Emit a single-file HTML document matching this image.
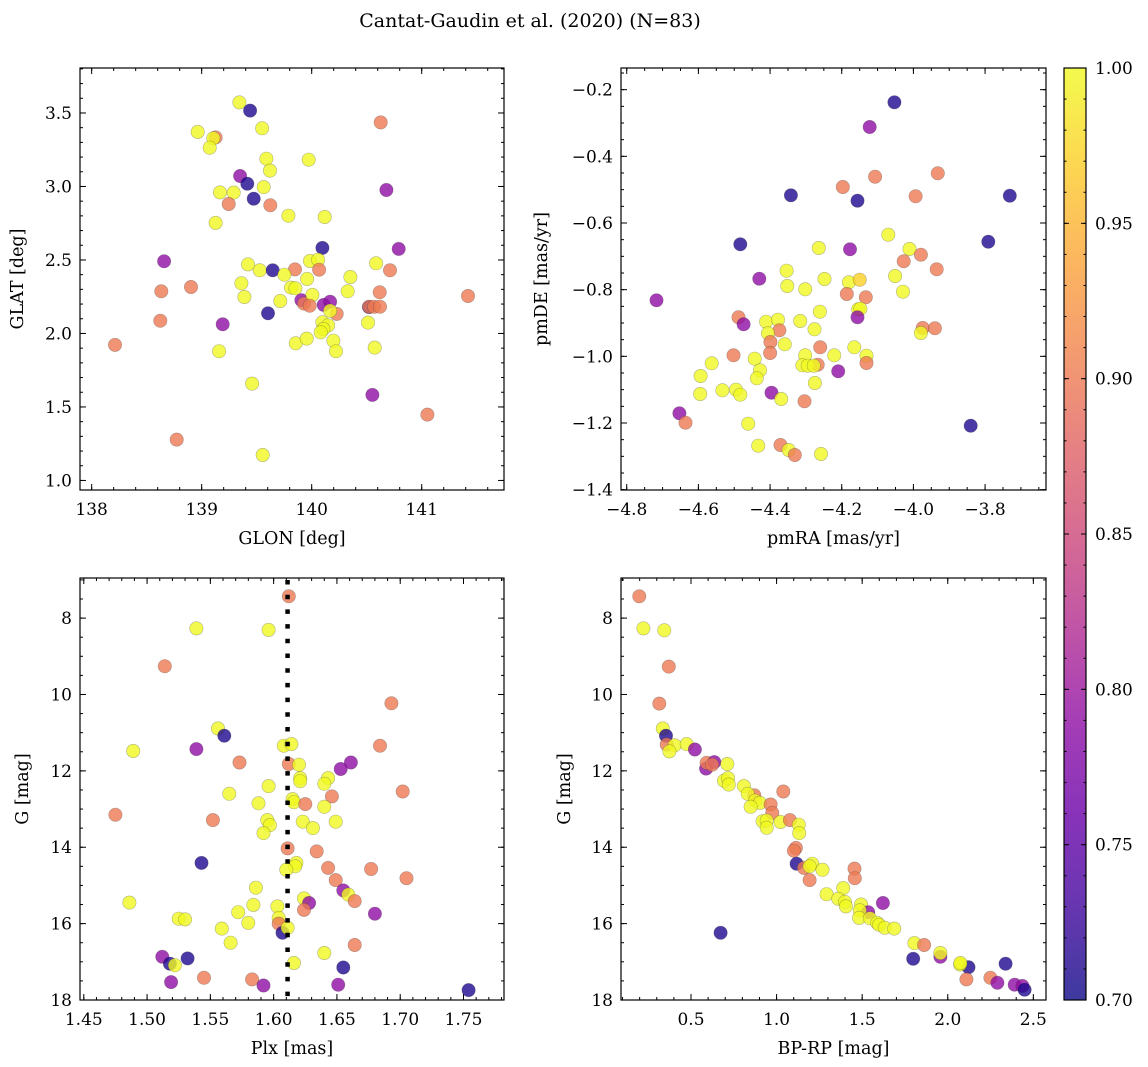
<!DOCTYPE html>
<html><head><meta charset="utf-8"><style>
html,body{margin:0;padding:0;background:#fff;}
svg{display:block;font-family:"DejaVu Serif","Liberation Serif",serif;}
</style></head><body>
<svg id="fig" width="1148" height="1067" viewBox="0 0 1148 1067" xmlns="http://www.w3.org/2000/svg">
<text x="530" y="27" font-size="19" text-anchor="middle">Cantat-Gaudin et al. (2020) (N=83)</text>
</svg>
<script>
// ---- Panel 1: GLON vs GLAT ----
const glon1=[139.343,139.440,140.627,138.964,139.127,139.106,139.073,139.549,139.588,139.621,139.973,139.349,139.415,140.679,139.167,139.291,139.564,139.473,139.246,139.624,139.127,139.788,140.118,140.097,140.791,138.658,139.421,139.527,139.646,139.848,139.752,139.985,140.058,140.067,139.958,140.585,140.712,139.361,138.903,138.633,139.812,139.852,140.352,140.327,140.618,139.388,139.715,139.906,139.930,140.006,139.982,140.109,140.167,140.227,140.167,140.521,140.524,140.567,140.621,141.421,139.603,138.624,139.191,140.097,140.149,140.106,140.082,140.512,138.212,139.158,139.855,139.955,140.197,140.221,140.573,139.458,140.552,141.052,138.773,139.555];
const glat1=[3.572,3.516,3.436,3.371,3.334,3.328,3.264,3.396,3.189,3.108,3.182,3.071,3.019,2.976,2.960,2.958,2.996,2.917,2.881,2.872,2.752,2.801,2.792,2.582,2.575,2.491,2.470,2.430,2.430,2.436,2.400,2.493,2.502,2.434,2.371,2.477,2.430,2.341,2.316,2.287,2.312,2.307,2.384,2.287,2.280,2.248,2.221,2.226,2.203,2.262,2.189,2.194,2.216,2.133,2.155,2.180,2.182,2.182,2.182,2.255,2.137,2.087,2.062,2.076,2.055,2.030,2.008,2.074,1.922,1.879,1.933,1.965,1.951,1.879,1.904,1.659,1.582,1.448,1.278,1.173];
const prob1=[1,.71,.9,1,.9,1,1,1,1,1,1,.79,.71,.79,1,1,1,.71,.9,.9,1,1,1,.71,.79,.79,1,1,.71,.9,1,1,1,.9,1,1,.9,1,.9,.9,1,1,1,1,.9,1,1,.79,.9,1,.9,.79,.79,.9,1,.71,.9,.9,.9,.9,.71,.9,.79,1,1,1,1,1,.9,1,1,1,1,1,1,1,.79,.9,.9,1];
// ---- Panel 2: pmRA vs pmDE ----
const pmra2=[-4.053,-4.122,-3.932,-4.107,-4.197,-4.342,-4.156,-3.994,-3.731,-4.070,-4.483,-4.264,-4.177,-4.011,-3.791,-3.979,-4.027,-3.935,-4.354,-4.430,-4.248,-4.180,-4.150,-4.051,-4.352,-4.302,-4.029,-4.186,-4.133,-4.717,-4.261,-4.154,-4.148,-4.156,-4.488,-4.474,-4.411,-4.378,-4.316,-4.374,-4.406,-4.276,-3.974,-3.940,-3.979,-4.399,-4.359,-4.260,-4.165,-4.400,-4.502,-4.302,-4.221,-4.131,-4.131,-4.443,-4.267,-4.310,-4.295,-4.278,-4.563,-4.428,-4.210,-4.594,-4.437,-4.275,-4.533,-4.495,-4.483,-4.595,-4.396,-4.369,-4.304,-4.653,-4.636,-4.461,-3.840,-4.433,-4.371,-4.348,-4.331,-4.258];
const pmde2=[-0.238,-0.312,-0.451,-0.461,-0.492,-0.517,-0.533,-0.520,-0.518,-0.635,-0.664,-0.675,-0.679,-0.678,-0.656,-0.695,-0.715,-0.739,-0.743,-0.767,-0.768,-0.778,-0.770,-0.759,-0.789,-0.799,-0.806,-0.813,-0.823,-0.832,-0.866,-0.859,-0.857,-0.883,-0.883,-0.904,-0.896,-0.890,-0.894,-0.922,-0.931,-0.919,-0.915,-0.916,-0.930,-0.957,-0.964,-0.973,-0.973,-0.990,-0.997,-0.997,-0.997,-0.998,-1.020,-1.007,-1.025,-1.027,-1.028,-1.028,-1.021,-1.042,-1.045,-1.059,-1.066,-1.080,-1.102,-1.100,-1.115,-1.113,-1.109,-1.128,-1.135,-1.171,-1.199,-1.202,-1.208,-1.268,-1.266,-1.281,-1.296,-1.293];
const prob2=[.71,.79,.9,.9,.9,.71,.71,.9,.71,1,.71,1,.79,1,.71,.9,.9,.9,1,.79,1,1,.97,1,1,1,1,.9,.9,.79,1,1,1,.79,.9,.79,1,1,1,.9,1,1,.9,.9,1,.9,1,.9,1,.9,.9,1,1,1,.9,1,.9,1,1,1,1,1,.79,1,1,1,1,1,1,1,.79,1,.9,.79,.9,1,.71,1,.9,1,.9,1];
// ---- Panel 3: Plx vs G ----
const plx3=[1.612,1.539,1.596,1.514,1.693,1.556,1.561,1.489,1.539,1.608,1.614,1.684,1.573,1.612,1.620,1.661,1.653,1.621,1.621,1.643,1.640,1.596,1.702,1.565,1.646,1.615,1.616,1.625,1.588,1.640,1.475,1.552,1.595,1.597,1.592,1.623,1.631,1.649,1.611,1.634,1.543,1.618,1.617,1.610,1.643,1.677,1.705,1.649,1.586,1.655,1.659,1.664,1.486,1.584,1.624,1.628,1.624,1.603,1.572,1.680,1.525,1.530,1.580,1.604,1.604,1.559,1.607,1.611,1.566,1.664,1.640,1.512,1.532,1.518,1.522,1.616,1.655,1.545,1.583,1.519,1.592,1.651,1.754];
const gmag3=[7.43,8.27,8.31,9.26,10.23,10.89,11.08,11.48,11.43,11.34,11.30,11.34,11.78,11.82,11.84,11.78,11.95,12.19,12.27,12.19,12.34,12.40,12.54,12.60,12.67,12.74,12.82,12.87,12.85,12.94,13.15,13.29,13.29,13.42,13.63,13.33,13.50,13.33,14.03,14.11,14.41,14.41,14.50,14.59,14.54,14.57,14.81,14.86,15.06,15.13,15.24,15.41,15.45,15.51,15.34,15.46,15.64,15.55,15.70,15.74,15.87,15.89,15.98,15.85,16.00,16.13,16.24,16.11,16.50,16.56,16.77,16.87,16.91,17.05,17.09,17.03,17.15,17.42,17.46,17.53,17.62,17.60,17.74];
const prob3=[.9,1,1,.9,.9,1,.71,1,.79,1,1,.9,.9,.9,1,.79,.79,1,1,1,1,1,.9,1,.9,1,1,.9,1,1,.9,.9,1,1,1,1,1,1,.9,.9,.71,1,1,1,.9,.9,.9,.9,1,.79,1,.9,1,1,1,.79,.9,1,1,.79,1,1,1,1,.9,1,.71,1,1,.9,1,.79,.71,.71,1,1,.71,.9,.9,.79,.79,.79,.71];
// ---- Panel 4: BP-RP vs G ----
const bprp4=[0.198,0.222,0.344,0.370,0.315,0.335,0.354,0.358,0.405,0.475,0.374,0.523,0.588,0.591,0.636,0.623,0.712,0.693,0.716,0.721,0.809,0.870,0.831,0.875,0.903,0.848,0.965,1.039,0.975,0.918,0.942,0.942,1.023,1.078,1.130,1.132,1.113,1.101,1.117,1.160,1.208,1.193,1.268,1.193,1.455,1.457,1.389,1.292,1.360,1.399,1.405,1.621,1.494,1.535,1.486,1.482,1.545,1.588,1.599,1.632,1.687,0.673,1.805,1.862,1.798,1.957,1.957,2.121,2.072,2.074,2.338,2.109,2.249,2.290,2.391,2.436,2.449];
const gmag4=[7.43,8.27,8.32,9.27,10.24,10.89,11.08,11.31,11.33,11.30,11.49,11.44,11.94,11.79,11.77,11.84,11.82,12.26,12.19,12.36,12.40,12.64,12.60,12.78,12.84,12.94,12.88,12.54,13.10,13.32,13.30,13.49,13.34,13.29,13.41,13.63,14.02,14.09,14.43,14.54,14.43,14.50,14.59,14.86,14.56,14.81,15.07,15.23,15.35,15.43,15.55,15.46,15.50,15.70,15.65,15.85,15.86,15.98,16.03,16.11,16.13,16.24,16.51,16.56,16.92,16.87,16.77,17.14,17.07,17.03,17.05,17.46,17.42,17.55,17.60,17.63,17.73];
const prob4=[.9,1,1,.9,.9,1,.71,.9,1,1,1,.79,.79,.9,.79,.9,1,1,1,1,1,.9,1,1,1,1,.9,.9,.9,1,1,1,1,.9,1,1,.9,.9,.71,.9,1,1,1,.9,.9,.9,1,1,1,1,1,.79,1,.79,1,1,1,1,1,1,1,.71,1,.9,.71,.79,1,.71,1,1,.71,.9,.9,.79,.79,.79,.71];
const plxMean=1.611;
const cbTicks=[0.70,0.75,0.80,0.85,0.90,0.95,1.00];

const NS="http://www.w3.org/2000/svg";
const svg=document.getElementById('fig');
function mk(tag,attrs,parent){const e=document.createElementNS(NS,tag);for(const k in attrs)e.setAttribute(k,attrs[k]);(parent||svg).appendChild(e);return e;}
const plasma=[[13,8,135],[65,4,157],[106,0,168],[143,13,164],[177,42,144],[204,71,120],[225,100,98],[242,132,75],[252,166,54],[252,206,37],[240,249,33]];
function cmap(v){let t=(v-0.7)/0.3;t=Math.max(0,Math.min(1,t));const f=t*10,i=Math.min(9,Math.floor(f)),r=f-i;const a=plasma[i],b=plasma[i+1];return `rgb(${Math.round(a[0]+(b[0]-a[0])*r)},${Math.round(a[1]+(b[1]-a[1])*r)},${Math.round(a[2]+(b[2]-a[2])*r)})`;}
function fmt(v,d){return (v<0?'\u2212':'')+Math.abs(v).toFixed(d);}

function panel(cfg){
  const g=mk('g',{});
  
  
  const {x0,x1,y0,y1}=cfg;
  const sx=v=>x0+(v-cfg.xr[0])/(cfg.xr[1]-cfg.xr[0])*(x1-x0);
  const sy=v=>y1-(v-cfg.yr[0])/(cfg.yr[1]-cfg.yr[0])*(y1-y0);
  const pts=mk('g',{},g);
  
  
  for(let i=0;i<cfg.xs.length;i++){
    const c=mk('circle',{cx:sx(cfg.xs[i]).toFixed(1),cy:sy(cfg.ys[i]).toFixed(1),r:6.7,fill:cmap(cfg.ps[i]),'fill-opacity':0.8,stroke:'#333','stroke-opacity':0.35,'stroke-width':0.6},pts);
    
    
  }
  if(cfg.vline!==undefined){
    const l=mk('line',{x1:sx(cfg.vline),x2:sx(cfg.vline),y1:y0+2,y2:y1,stroke:'#000','stroke-width':4.5,'stroke-dasharray':'4.5 10.2'},g);
    
    
  }
  const tk=mk('g',{stroke:'#000','stroke-width':1},g);
  const eps=1e-6;
  const inX=v=>v>=Math.min(...cfg.xr)-eps&&v<=Math.max(...cfg.xr)+eps;
  const inY=v=>v>=Math.min(...cfg.yr)-eps&&v<=Math.max(...cfg.yr)+eps;
  for(let v=Math.ceil(cfg.xr[0]/cfg.xmin-eps)*cfg.xmin;v<=cfg.xr[1]+eps;v+=cfg.xmin){const X=sx(v);mk('line',{x1:X,x2:X,y1:y1,y2:y1-3},tk);mk('line',{x1:X,x2:X,y1:y0,y2:y0+3},tk);}
  const ylo=Math.min(...cfg.yr),yhi=Math.max(...cfg.yr);
  for(let v=Math.ceil(ylo/cfg.ymin-eps)*cfg.ymin;v<=yhi+eps;v+=cfg.ymin){const Y=sy(v);mk('line',{x1:x0,x2:x0+3,y1:Y,y2:Y},tk);mk('line',{x1:x1,x2:x1-3,y1:Y,y2:Y},tk);}
  cfg.xmaj.forEach(v=>{if(!inX(v))return;const X=sx(v);mk('line',{x1:X,x2:X,y1:y1,y2:y1-6},tk);mk('line',{x1:X,x2:X,y1:y0,y2:y0+6},tk);
    const t=mk('text',{x:X,y:y1+25,'font-size':17,'text-anchor':'middle'},g);t.textContent=fmt(v,cfg.xd);
    
    });
  cfg.ymaj.forEach(v=>{if(!inY(v))return;const Y=sy(v);mk('line',{x1:x0,x2:x0+6,y1:Y,y2:Y},tk);mk('line',{x1:x1,x2:x1-6,y1:Y,y2:Y},tk);
    const t=mk('text',{x:x0-8,y:Y+6,'font-size':17,'text-anchor':'end'},g);t.textContent=fmt(v,cfg.yd);
    
    });
  const fr=mk('rect',{x:x0,y:y0,width:x1-x0,height:y1-y0,fill:'none',stroke:'#000','stroke-width':1.2},g);
  
  
  const xl=mk('text',{x:(x0+x1)/2,y:y1+54,'font-size':17.5,'text-anchor':'middle'},g);xl.textContent=cfg.xlabel;
  
  
  const yl=mk('text',{x:cfg.ylx,y:(y0+y1)/2,'font-size':17.5,'text-anchor':'middle',transform:`rotate(-90 ${cfg.ylx} ${(y0+y1)/2})`},g);yl.textContent=cfg.ylabel;
  
  
}
const rng=(a,b,s)=>{const r=[];for(let v=a;v<=b+1e-9;v+=s)r.push(Math.round(v*1000)/1000);return r;};
panel({name:'glon-glat-panel',x0:80,x1:504,y0:68,y1:490,xr:[137.894,141.748],yr:[0.935,3.806],xs:glon1,ys:glat1,ps:prob1,xmaj:[138,139,140,141],xmin:0.2,xd:0,ymaj:rng(1,3.5,0.5),ymin:0.1,yd:1,xlabel:'GLON [deg]',ylabel:'GLAT [deg]',ylx:23});
panel({name:'proper-motion-panel',x0:621,x1:1046,y0:68,y1:490,xr:[-4.816,-3.630],yr:[-1.401,-0.135],xs:pmra2,ys:pmde2,ps:prob2,xmaj:rng(-4.8,-3.8,0.2),xmin:0.05,xd:1,ymaj:rng(-1.4,-0.2,0.2),ymin:0.05,yd:1,xlabel:'pmRA [mas/yr]',ylabel:'pmDE [mas/yr]',ylx:547});
panel({name:'parallax-panel',x0:80,x1:504,y0:578,y1:1000,xr:[1.447,1.782],yr:[18.0,6.95],xs:plx3,ys:gmag3,ps:prob3,xmaj:rng(1.45,1.75,0.05),xmin:0.01,xd:2,ymaj:rng(8,18,2),ymin:0.5,yd:0,xlabel:'Plx [mas]',ylabel:'G [mag]',ylx:28,vline:plxMean});
panel({name:'cmd-panel',x0:621,x1:1046,y0:578,y1:1000,xr:[0.091,2.574],yr:[18.0,6.95],xs:bprp4,ys:gmag4,ps:prob4,xmaj:rng(0.5,2.5,0.5),xmin:0.1,xd:1,ymaj:rng(8,18,2),ymin:0.5,yd:0,xlabel:'BP-RP [mag]',ylabel:'G [mag]',ylx:570});

const cb=mk('g',{});


const defs=mk('defs',{},cb);
const lg=mk('linearGradient',{id:'cbg',x1:0,y1:1,x2:0,y2:0},defs);
for(let i=0;i<=20;i++){const v=0.7+0.3*i/20;mk('stop',{offset:(i/20),'stop-color':cmap(v)},lg);}
const cx0=1064,cx1=1086,cy0=68,cy1=1000;
mk('rect',{x:cx0,y:cy0,width:cx1-cx0,height:cy1-cy0,fill:'url(#cbg)','fill-opacity':0.8},cb);
const cys=v=>cy1-(v-0.7)/0.3*(cy1-cy0);
for(let v=0.70;v<=1.0001;v+=0.01){const Y=cys(v);mk('line',{x1:cx0,x2:cx0+2.5,y1:Y,y2:Y,stroke:'#000'},cb);mk('line',{x1:cx1,x2:cx1-2.5,y1:Y,y2:Y,stroke:'#000'},cb);}
cbTicks.forEach(v=>{const Y=cys(v);mk('line',{x1:cx0,x2:cx0+5,y1:Y,y2:Y,stroke:'#000'},cb);mk('line',{x1:cx1,x2:cx1-5,y1:Y,y2:Y,stroke:'#000'},cb);
  const t=mk('text',{x:1095,y:Y+6,'font-size':17},cb);t.textContent=v.toFixed(2);
  
  });
mk('rect',{x:cx0,y:cy0,width:cx1-cx0,height:cy1-cy0,fill:'none',stroke:'#000','stroke-width':1.2},cb);
</script>
</body></html>
